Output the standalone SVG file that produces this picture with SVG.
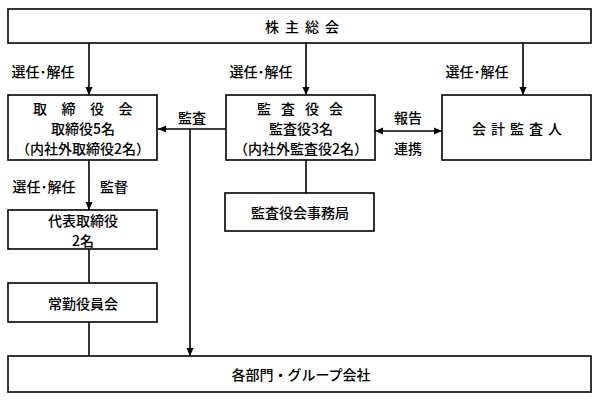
<svg xmlns="http://www.w3.org/2000/svg" width="600" height="401" viewBox="0 0 600 401">
<defs>
<marker id="ah" viewBox="0 0 10 10" refX="10" refY="5" markerWidth="8" markerHeight="8" orient="auto-start-reverse" markerUnits="userSpaceOnUse">
<path d="M0,0.5 L10,5 L0,9.5 z" fill="#000"/>
</marker>
<style>
rect{fill:#fff;stroke:#000;stroke-width:1.6}
text{font-family:"Noto Sans CJK JP","Noto Sans CJK SC",sans-serif;font-size:14px;font-weight:500;fill:#000;text-anchor:middle;dominant-baseline:central}
.s{font-size:14px}
.c line{stroke:#000;stroke-width:1.6;fill:none}
.a{marker-end:url(#ah)}
.b{marker-start:url(#ah);marker-end:url(#ah)}
</style>
</defs>
<rect width="600" height="401" style="fill:#fff;stroke:none"/>
<g class="c">
<line class="a" x1="89" y1="43" x2="89" y2="95"/>
<line class="a" x1="306" y1="43" x2="306" y2="95"/>
<line class="a" x1="523" y1="43" x2="523" y2="95"/>
<line class="b" x1="375" y1="131" x2="442" y2="131"/>
<line class="a" x1="226" y1="129" x2="158" y2="129"/>
<line class="a" x1="190" y1="129" x2="190" y2="356"/>
<line class="a" x1="89" y1="160" x2="89" y2="210"/>
<line x1="89" y1="249" x2="89" y2="283"/>
<line x1="89" y1="322" x2="89" y2="356"/>
<line x1="306" y1="160" x2="306" y2="193"/>
<text class="s" x="43" y="71">選任･解任</text>
<text class="s" x="261" y="71">選任･解任</text>
<text class="s" x="477" y="71">選任･解任</text>
<text class="s" x="192" y="117">監査</text>
<text class="s" x="408" y="117">報告</text>
<text class="s" x="408" y="148">連携</text>
<text class="s" x="44" y="186">選任･解任</text>
<text class="s" x="114" y="186">監督</text>
</g>
<g id="n1"><rect x="8" y="9" width="583" height="34"/><text x="305" y="26" letter-spacing="6">株主総会</text></g>
<g id="n2"><rect x="8" y="95" width="149" height="65"/><text x="90" y="108" letter-spacing="14.5">取締役会</text><text x="83" y="128">取締役5名</text><text x="83" y="148">（内社外取締役2名）</text></g>
<g id="n3"><rect x="226" y="95" width="149" height="65"/><text x="305" y="108" letter-spacing="10">監査役会</text><text x="301" y="128">監査役3名</text><text x="301" y="148">（内社外監査役2名）</text></g>
<g id="n4"><rect x="442" y="95" width="149" height="65"/><text x="519.5" y="128" letter-spacing="5">会計監査人</text></g>
<g id="n5"><rect x="8" y="210" width="149" height="39"/><text x="83" y="220" font-size="13.5">代表取締役</text><text x="83" y="240" font-size="13.5">2名</text></g>
<g id="n6"><rect x="225" y="193" width="149" height="38"/><text x="300" y="212">監査役会事務局</text></g>
<g id="n7"><rect x="8" y="283" width="149" height="39"/><text x="83" y="303">常勤役員会</text></g>
<g id="n8"><rect x="8" y="356" width="583" height="36"/><text x="301" y="374">各部門・グループ会社</text></g>
</svg>
